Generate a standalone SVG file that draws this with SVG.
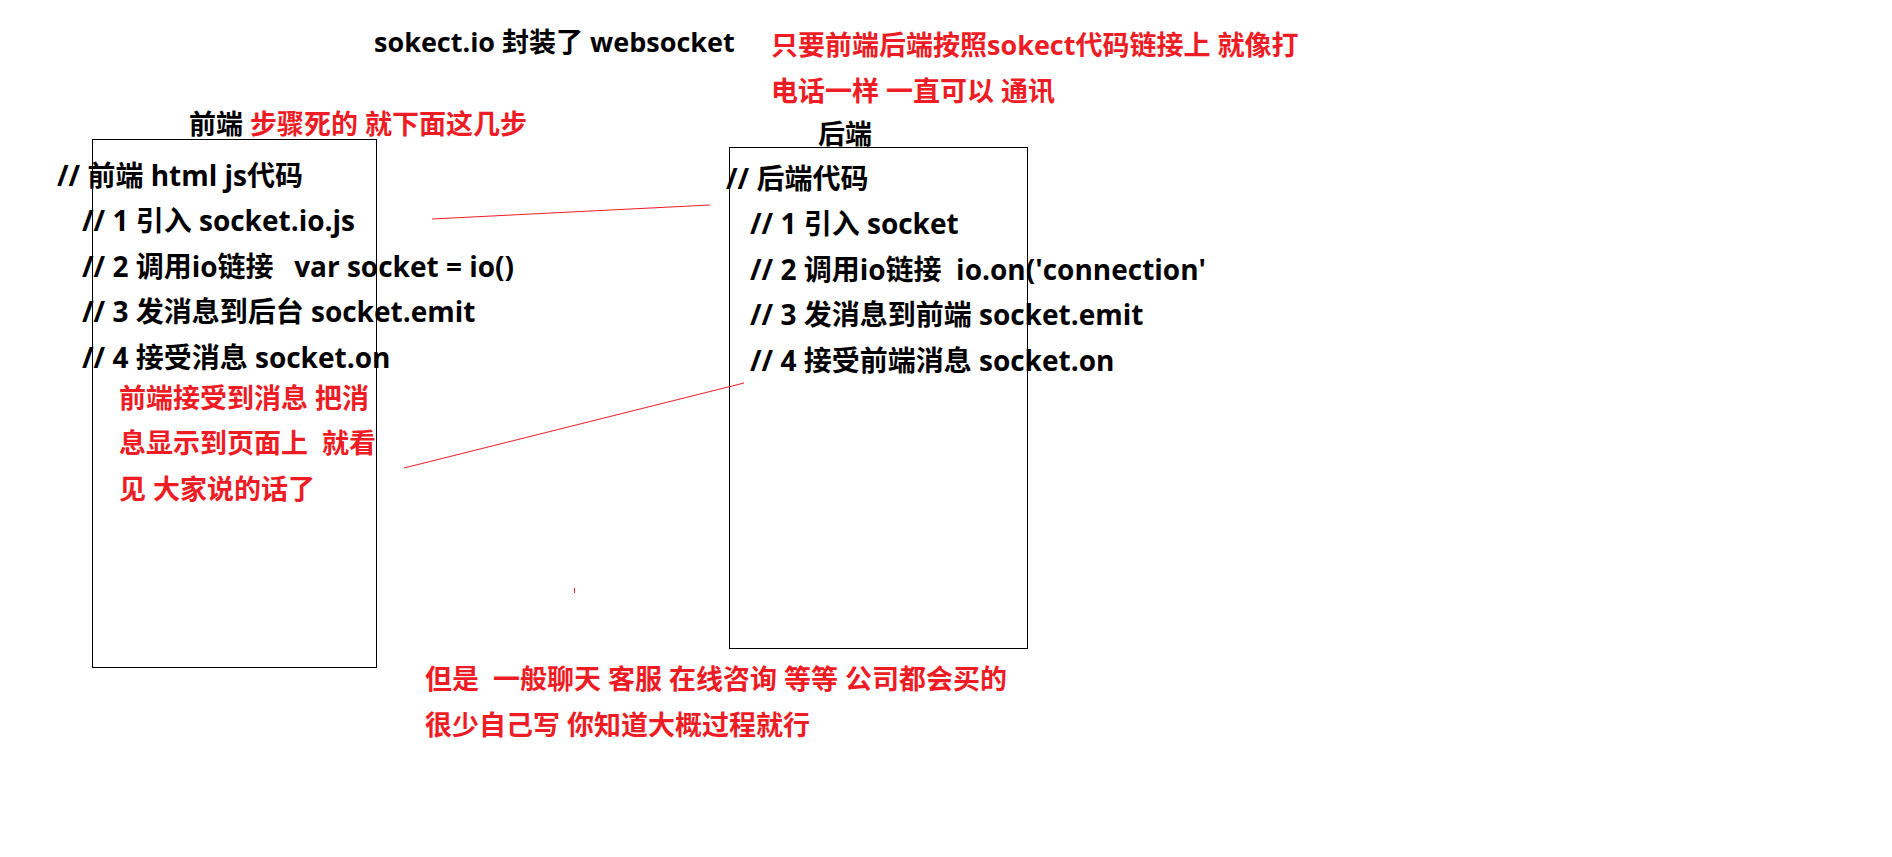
<svg xmlns="http://www.w3.org/2000/svg" width="1892" height="857" viewBox="0 0 1892 857">
<style>
text{font-family:"Open Sans","Noto Sans CJK SC",sans-serif;font-weight:700;font-size:27px;fill:#000;white-space:pre}
.code{font-size:28px}
.r{fill:#ee1c25}
.box{fill:none;stroke:#000;stroke-width:1}
.conn{stroke:#ee1c25;stroke-width:1;fill:none}
</style>
<rect width="1892" height="857" fill="#fff"/>
<g id="title"><text x="374" y="52">sokect.io 封装了 websocket</text></g>
<g id="note-top"><text class="r" x="771" y="55">只要前端后端按照sokect代码链接上 就像打</text><text class="r" x="771" y="101">电话一样 一直可以 通讯</text></g>
<g id="frontend-label"><text x="189" y="134">前端 <tspan class="r">步骤死的 就下面这几步</tspan></text></g>
<g id="backend-label"><text x="818" y="144">后端</text></g>
<g id="frontend">
<rect class="box" x="92.5" y="139.5" width="284" height="528"/>
<text class="code" x="57" y="186">// 前端 html js代码</text>
<text class="code" x="82" y="231">// 1 引入 socket.io.js</text>
<text class="code" x="82" y="277">// 2 调用io链接  <tspan dx="6">var socket = io()</tspan></text>
<text class="code" x="82" y="322">// 3 发消息到后台 socket.emit</text>
<text class="code" x="82" y="368">// 4 接受消息 socket.on</text>
<text class="r" x="119" y="408">前端接受到消息 把消</text>
<text class="r" x="119" y="453">息显示到页面上  就看</text>
<text class="r" x="119" y="499">见 大家说的话了</text>
</g>
<g id="backend">
<rect class="box" x="729.5" y="147.5" width="298" height="501"/>
<text class="code" x="726" y="189">// 后端代码</text>
<text class="code" x="750" y="234">// 1 引入 socket</text>
<text class="code" x="750" y="280">// 2 调用io链接  io.on('connection'</text>
<text class="code" x="750" y="325">// 3 发消息到前端 socket.emit</text>
<text class="code" x="750" y="371">// 4 接受前端消息 socket.on</text>
</g>
<g id="note-bottom"><text class="r" x="425" y="689">但是  一般聊天 客服 在线咨询 等等 公司都会买的</text><text class="r" x="425" y="735">很少自己写 你知道大概过程就行</text></g>
<g id="connectors">
<line class="conn" x1="432" y1="219" x2="710" y2="205"/>
<line class="conn" x1="404" y1="468" x2="744" y2="383"/>
<line class="conn" x1="574.5" y1="588" x2="574.5" y2="593" stroke-width="1.5"/>
</g>
</svg>
